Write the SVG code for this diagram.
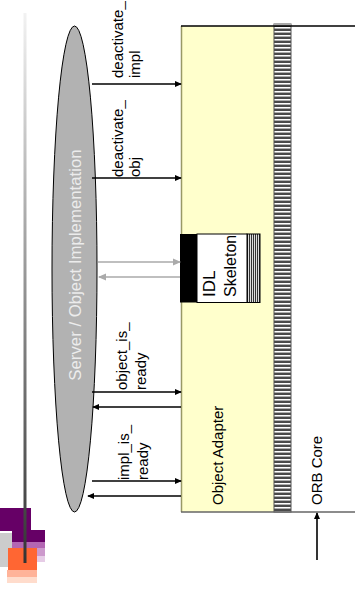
<svg xmlns="http://www.w3.org/2000/svg" width="355" height="598" viewBox="0 0 355 598">
<defs>
<linearGradient id="lineGrad" x1="0" y1="0" x2="0" y2="1">
<stop offset="0" stop-color="#f2f2f2"/>
<stop offset="1" stop-color="#333333"/>
</linearGradient>
<pattern id="hstripe" x="0" y="26" width="16" height="4" patternUnits="userSpaceOnUse">
<rect width="16" height="4" fill="#4a4a4a"/>
<rect y="1" width="16" height="1" fill="#ffffff"/>
<rect y="2" width="16" height="1" fill="#b0b0b0"/>
</pattern>
<pattern id="vstripe" x="247" y="0" width="2" height="8" patternUnits="userSpaceOnUse">
<rect width="2" height="8" fill="#dddddd"/>
<rect width="1" height="8" fill="#333333"/>
</pattern>
<marker id="ah" viewBox="0 0 8 8" refX="7" refY="4" markerWidth="7" markerHeight="7" markerUnits="userSpaceOnUse" orient="auto">
<path d="M0,0.5 L8,4 L0,7.5 Z" fill="#000"/>
</marker>
<marker id="ahg" viewBox="0 0 8 8" refX="7" refY="4" markerWidth="8" markerHeight="8" markerUnits="userSpaceOnUse" orient="auto">
<path d="M0,0.5 L8,4 L0,7.5 Z" fill="#aaaaaa"/>
</marker>
</defs>
<style>
.lbl{font-family:"Liberation Sans",Arial,sans-serif;font-size:15px;fill:#000}
.arr{stroke:#000;stroke-width:1.6;fill:none;marker-end:url(#ah)}
.garr{stroke:#aaaaaa;stroke-width:1.6;fill:none;marker-end:url(#ahg)}
</style>
<rect width="355" height="598" fill="#ffffff"/>

<g id="logo">
<rect x="0" y="508" width="31" height="23" fill="#660066"/>
<rect x="12" y="530" width="33" height="12" fill="#660066"/>
<rect x="12" y="542" width="33" height="6" fill="#b366b3"/>
<rect x="37" y="548" width="8" height="8" fill="#cc99cc"/>
<rect x="37" y="556" width="8" height="6" fill="#e6cce6"/>
<rect x="0" y="533" width="12" height="34" fill="#cccccc"/>
<rect x="8" y="548" width="29" height="22" fill="#ff6633"/>
<rect x="7" y="570" width="30" height="7" fill="#ffb399"/>
<rect x="7" y="577" width="30" height="6" fill="#ffdccc"/>
<rect x="23.5" y="13" width="3" height="550" fill="url(#lineGrad)"/>
</g>

<g id="server">
<ellipse cx="74.5" cy="269" rx="22.5" ry="243" fill="#b2b2b2" stroke="#000" stroke-width="1"/>
<text transform="translate(81,265) rotate(-90)" text-anchor="middle" style="font-family:'Liberation Sans',Arial,sans-serif;font-size:16.8px;fill:#ececec">Server / Object Implementation</text>
</g>

<g id="object-adapter">
<rect x="181" y="26" width="93" height="486" fill="#ffffcc"/>
<line x1="181.5" y1="26" x2="181.5" y2="512" stroke="#999966" stroke-width="1.5"/>
<text class="lbl" transform="translate(223,505) rotate(-90)">Object Adapter</text>
</g>

<g id="strip">
<rect x="274" y="24" width="17" height="488" fill="url(#hstripe)" stroke="#555" stroke-width="1"/>
<rect x="274" y="24" width="17" height="2" fill="#aaaaaa"/>
</g>

<g id="orb-core">
<line x1="181" y1="26" x2="355" y2="26" stroke="#000" stroke-width="1.5"/>
<line x1="181" y1="512" x2="355" y2="512" stroke="#666666" stroke-width="1.5"/>
<text class="lbl" transform="translate(322,505) rotate(-90)">ORB Core</text>
</g>

<g id="idl-skeleton">
<rect x="247" y="234" width="13" height="68.5" fill="url(#vstripe)" stroke="#000" stroke-width="1"/>
<rect x="197" y="234" width="50" height="68.5" fill="#ffffff" stroke="#000" stroke-width="1"/>
<rect x="180" y="234" width="17" height="68.5" fill="#000000"/>
<text transform="translate(215,297) rotate(-90)" style="font-family:'Liberation Sans',Arial,sans-serif;font-size:17px;fill:#000">IDL</text>
<text transform="translate(236,297) rotate(-90)" style="font-family:'Liberation Sans',Arial,sans-serif;font-size:16px;fill:#000">Skeleton</text>
</g>

<g id="connectors">
<line class="arr" x1="92" y1="84" x2="181" y2="84"/>
<line class="arr" x1="92" y1="178" x2="181" y2="178"/>
<line class="garr" x1="98" y1="262" x2="180" y2="262"/>
<line class="garr" x1="180" y1="277" x2="99" y2="277"/>
<line class="arr" x1="92" y1="392" x2="181" y2="392"/>
<line class="arr" x1="181" y1="407" x2="93" y2="407"/>
<line class="arr" x1="92" y1="481" x2="181" y2="481"/>
<line class="arr" x1="181" y1="496" x2="88" y2="496"/>
<line class="arr" x1="317" y1="560" x2="317" y2="513"/>
</g>

<g id="labels">
<text class="lbl" transform="translate(123,78) rotate(-90)">deactivate_</text>
<text class="lbl" transform="translate(140,78) rotate(-90)">impl</text>
<text class="lbl" transform="translate(123,177) rotate(-90)">deactivate_</text>
<text class="lbl" transform="translate(140,177) rotate(-90)">obj</text>
<text class="lbl" transform="translate(127,390) rotate(-90)">object_is_</text>
<text class="lbl" transform="translate(146,390) rotate(-90)">ready</text>
<text class="lbl" transform="translate(129,480) rotate(-90)">impl_is_</text>
<text class="lbl" transform="translate(148,480) rotate(-90)">ready</text>
</g>
</svg>
